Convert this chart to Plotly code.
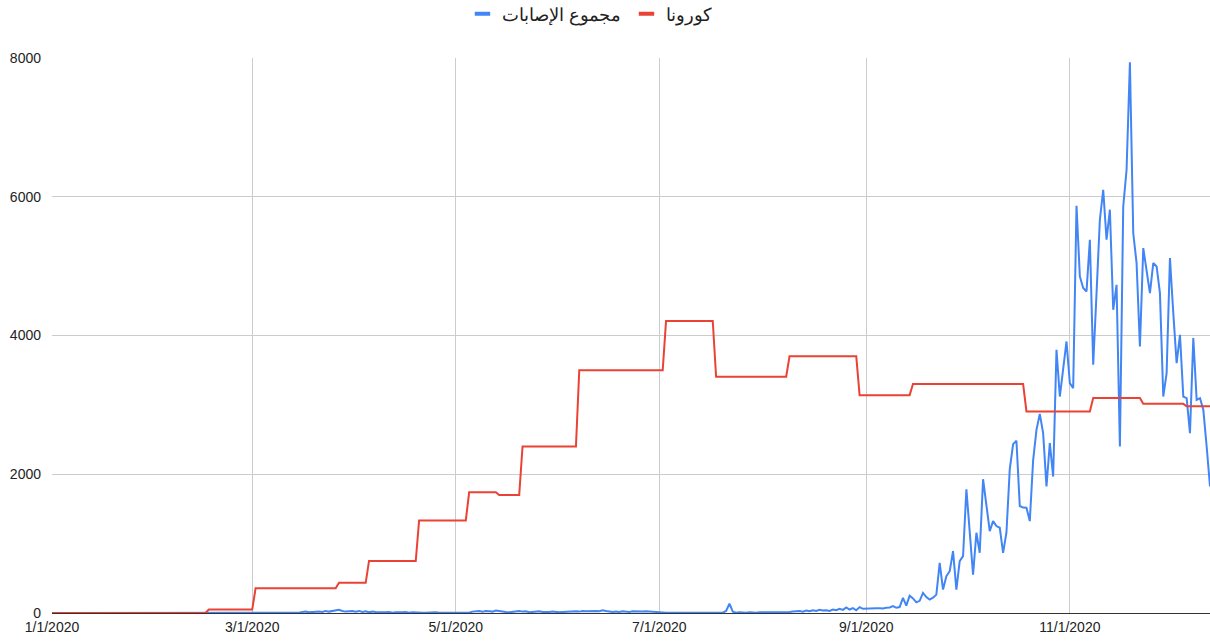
import plotly.graph_objects as go
import pandas as pd

# 每日病例數 (مجموع الإصابات), 逐月
cases_jan = [0] * 31
cases_feb = [0] * 29
cases_mar = [0, 0, 0, 0, 0, 1, 0, 0, 1, 2, 0, 5, 3, 10, 5, 15, 20, 10, 15, 25,
             20, 15, 30, 20, 25, 35, 45, 30, 20, 25, 30]
cases_apr = [20, 30, 15, 25, 10, 20, 15, 10, 5, 10, 15, 5, 10, 5, 10, 15, 5, 10, 5, 10,
             5, 5, 10, 5, 10, 5, 5, 10, 5, 5]
cases_may = [5, 10, 5, 10, 5, 20, 25, 30, 20, 30, 25, 20, 35, 25, 20, 15, 10, 20, 25, 30,
             20, 25, 10, 15, 20, 25, 15, 10, 15, 20, 10]
cases_jun = [10, 15, 20, 15, 20, 25, 20, 30, 25, 30, 35, 30, 25, 40, 30, 20, 15, 20, 15, 25,
             20, 15, 25, 20, 15, 20, 25, 20, 15, 10]
cases_jul = [5, 10, 5, 5, 10, 5, 5, 10, 5, 5, 5, 10, 5, 5, 10, 5, 5, 10, 5, 5,
             30, 135, 20, 5, 10, 5, 5, 10, 5, 5, 10]
cases_aug = [10, 5, 10, 5, 15, 10, 5, 10, 15, 20, 25, 30, 20, 35, 25, 40, 30, 45, 35, 40,
             30, 50, 40, 60, 45, 80, 50, 70, 40, 85, 60]
cases_sep = [65, 70, 75, 70, 70, 65, 75, 80, 100, 75, 85, 217, 106, 250, 210, 154, 175, 289, 230, 193,
             220, 265, 723, 337, 530, 602, 892, 337, 747, 819]
cases_oct = [1783, 1150, 554, 1157, 868, 1928, 1550, 1181, 1325, 1253, 1229, 868, 1157, 2073, 2434,
             2482, 1542, 1520, 1518, 1325, 2200, 2640, 2870, 2593, 1823, 2449, 1967, 3794, 3120, 3500,
             3914]
cases_nov = [3314, 3242, 5870, 4851, 4684, 4635, 5380, 3578, 4610, 5669, 6101, 5380, 5813, 4371, 4731,
             2400, 5860, 6389, 7937, 5477, 5044, 3841, 5260, 4930, 4611, 5044, 4995, 4611, 3120, 3458]
cases_dec = [5116, 4323, 3602, 4010, 3120, 3097, 2593, 3962, 3073, 3097, 2929, 2400, 1823]

# كورونا: 階梯式數值 (日期, 數值)
corona_dates = ['2020-01-01', '2020-02-16', '2020-02-17', '2020-03-01', '2020-03-02', '2020-03-26',
                '2020-03-27', '2020-04-04', '2020-04-05', '2020-04-19', '2020-04-20', '2020-05-04',
                '2020-05-05', '2020-05-13', '2020-05-14', '2020-05-20', '2020-05-21', '2020-06-06',
                '2020-06-07', '2020-07-02', '2020-07-03', '2020-07-17', '2020-07-18', '2020-08-08',
                '2020-08-09', '2020-08-29', '2020-08-30', '2020-09-14', '2020-09-15', '2020-10-18',
                '2020-10-19', '2020-11-07', '2020-11-08', '2020-11-22', '2020-11-23', '2020-12-05',
                '2020-12-06', '2020-12-13']
corona_values = [0, 0, 50, 50, 355, 355, 435, 435, 750, 750, 1335, 1335, 1740, 1740, 1700, 1700,
                 2400, 2400, 3500, 3500, 4210, 4210, 3405, 3405, 3700, 3700, 3140, 3140, 3300, 3300,
                 2905, 2905, 3100, 3100, 3015, 3015, 2980, 2980]

x_tick_vals = ['2020-01-01', '2020-03-01', '2020-05-01', '2020-07-01', '2020-09-01', '2020-11-01']
x_tick_text = ['1/1/2020', '3/1/2020', '5/1/2020', '7/1/2020', '9/1/2020', '11/1/2020']
y_tick_vals = [0, 2000, 4000, 6000, 8000]

BLUE = '#4285F4'
RED = '#EA4335'

cases = (cases_jan + cases_feb + cases_mar + cases_apr + cases_may + cases_jun +
         cases_jul + cases_aug + cases_sep + cases_oct + cases_nov + cases_dec)
case_dates = pd.date_range('2020-01-01', periods=len(cases), freq='D')

fig = go.Figure()

fig.add_trace(go.Scatter(
    x=case_dates, y=cases, mode='lines', showlegend=False,
    line=dict(color=BLUE, width=2)
))
fig.add_trace(go.Scatter(
    x=pd.to_datetime(corona_dates), y=corona_values, mode='lines', showlegend=False,
    line=dict(color=RED, width=2)
))

# 圖例: 短粗色條 (與原圖相同)
for name, color in [('مجموع الإصابات', BLUE), ('كورونا', RED)]:
    fig.add_trace(go.Scatter(
        x=[None], y=[None], mode='markers', name=name,
        marker=dict(symbol='line-ew', size=11, color=color,
                    line=dict(color=color, width=4))
    ))

fig.update_layout(
    width=1210,
    height=642,
    margin=dict(l=52, r=0, t=58, b=29, autoexpand=False),
    paper_bgcolor='white',
    plot_bgcolor='white',
    font=dict(family='Liberation Sans, Arial, sans-serif', size=14, color='#222222'),
    legend=dict(orientation='h', x=0.465, xanchor='center', y=1.079, yanchor='middle',
                font=dict(size=18, color='#222222'), itemwidth=30),
    showlegend=True
)

fig.update_xaxes(
    range=['2020-01-01', '2020-12-13'],
    tickvals=x_tick_vals, ticktext=x_tick_text,
    showgrid=True, gridcolor='#cccccc', gridwidth=1,
    showline=False, zeroline=False, ticks='', ticklabelstandoff=4
)
fig.update_yaxes(
    range=[0, 8000],
    tickvals=y_tick_vals,
    showgrid=True, gridcolor='#cccccc', gridwidth=1,
    zeroline=True, zerolinecolor='#333333', zerolinewidth=1,
    showline=False, ticks='', ticklabelstandoff=10
)

fig.write_html("out.html", config={'displayModeBar': False},
               post_script="document.body.style.margin='0';")
